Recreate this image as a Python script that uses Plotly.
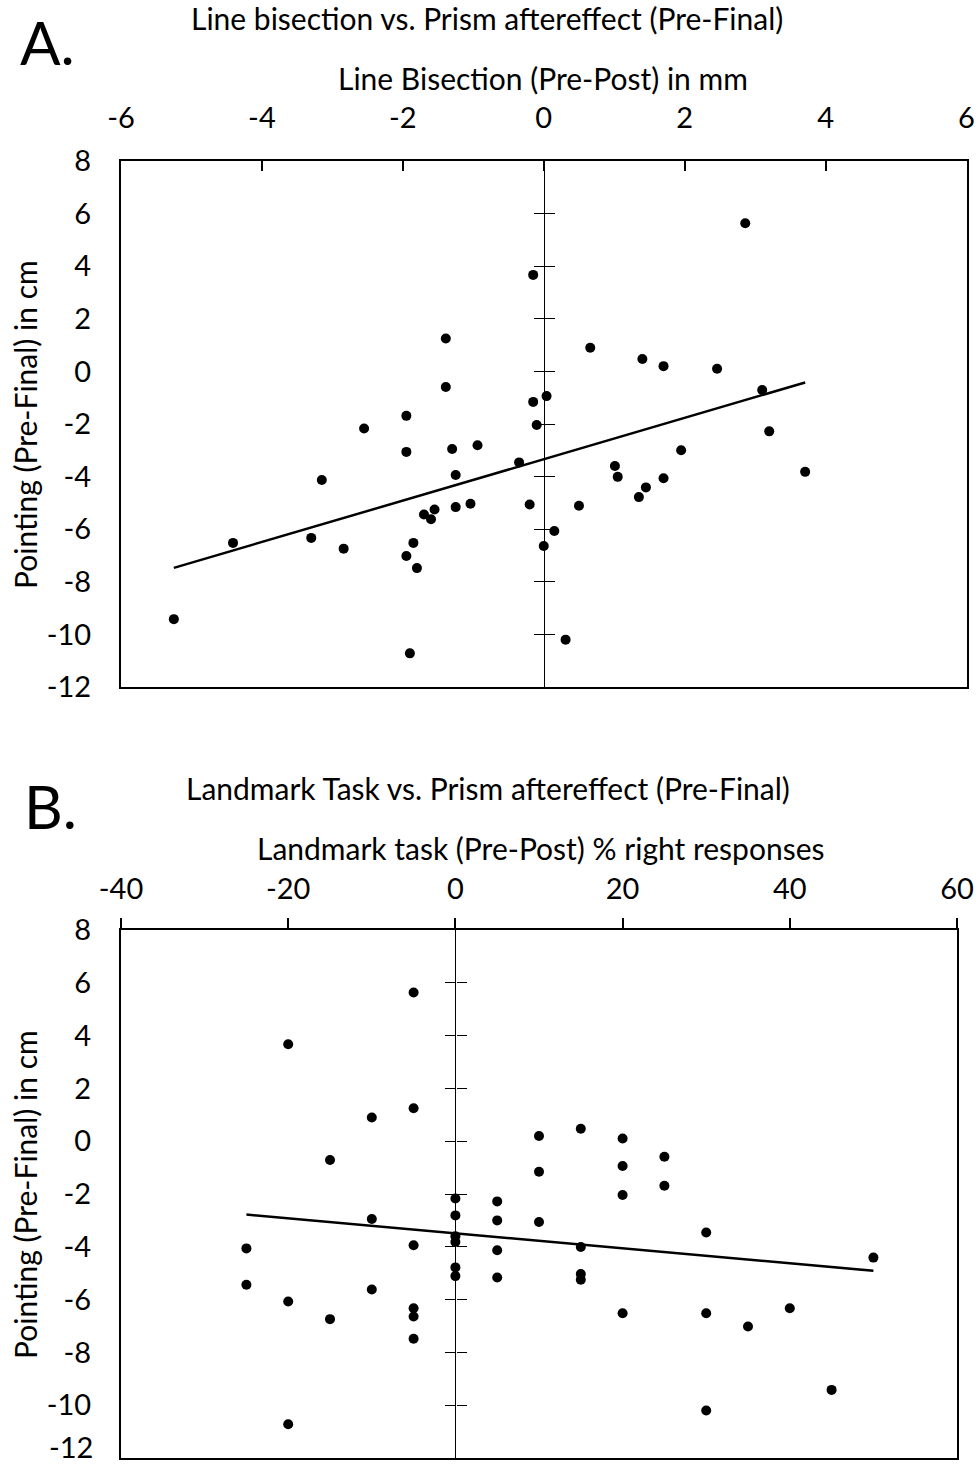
import plotly.graph_objects as go

# ---------------- data ----------------
# Panel A: Line bisection (Pre-Post, mm) vs pointing (Pre-Final, cm)
line_bisection_mm = [-0.15, -1.39, -1.39, -1.95, -0.15, 0.04, 2.86, 0.66, 1.40, 1.70,
                     2.46, 3.10, -0.10, -2.55, -1.95, -1.30, -0.94, -0.35, -3.15, -1.25,
                     -0.20, -1.04, -1.25, -1.55, -1.70, -1.60, -4.41, -3.30, -2.84, -1.85,
                     -1.95, -1.80, 0.00, -5.25, -1.90, 0.15, 0.50, 1.01, 1.05, 1.35,
                     1.45, 1.70, 1.95, 3.20, 3.71, 0.31]
pointing_A_cm = [3.67, 1.25, -0.59, -1.69, -1.16, -0.94, 5.63, 0.90, 0.47, 0.20,
                 0.10, -0.71, -2.04, -2.17, -3.06, -2.95, -2.81, -3.46, -4.13, -3.94,
                 -5.06, -5.03, -5.16, -5.25, -5.44, -5.62, -6.52, -6.33, -6.74, -6.52,
                 -7.02, -7.48, -6.64, -9.42, -10.72, -6.07, -5.11, -3.60, -4.01, -4.78,
                 -4.41, -4.06, -3.00, -2.28, -3.82, -10.20]
trend_A_x = [-5.25, 3.71]
trend_A_y = [-7.47, -0.42]

# Panel B: Landmark task (Pre-Post, % right responses) vs pointing (Pre-Final, cm)
landmark_pct = [-5, -20, -5, -10, -15, 10, 10, 15, 20, 25,
                20, 25, 0, 0, 0, 0, 0, 0, -10, -25,
                -25, -5, -20, -10, -15, -5, -5, -5, -20, 5,
                5, 10, 5, 5, 20, 30, 15, 15, 15, 50,
                20, 30, 35, 40, 45, 30]
pointing_B_cm = [5.63, 3.67, 1.25, 0.90, -0.71, 0.20, -1.16, 0.47, 0.10, -0.59,
                 -0.94, -1.69, -2.17, -2.81, -3.60, -3.82, -4.78, -5.11, -2.95, -4.06,
                 -5.44, -3.94, -6.07, -5.62, -6.74, -6.33, -6.64, -7.48, -10.72, -2.28,
                 -3.00, -3.06, -4.13, -5.16, -2.04, -3.46, -4.01, -5.03, -5.25, -4.41,
                 -6.52, -6.52, -7.02, -6.33, -9.42, -10.20]
trend_B_x = [-25, 50]
trend_B_y = [-2.78, -4.91]

x_ticks_A = [-6, -4, -2, 0, 2, 4, 6]
x_ticks_B = [-40, -20, 0, 20, 40, 60]
y_ticks = [8, 6, 4, 2, 0, -2, -4, -6, -8, -10, -12]
y_inner_ticks = [6, 4, 2, 0, -2, -4, -6, -8, -10]

# ---------------- layout geometry ----------------
W, H = 979, 1472
FONT = "Lato"
FS = 29      # tick labels
FT = 30      # titles

def px_x(p):
    return p / W

def px_y(p):
    return 1 - p / H

def labels(vals):
    return [str(v) for v in vals]  # plain hyphen-minus, as in the reference

domA_x = [px_x(121), px_x(966.5)]
domA_y = [px_y(687), px_y(161)]
domB_x = [px_x(121), px_x(957)]
domB_y = [px_y(1458), px_y(930)]
rngA_x = [-6, 6]
rngB_x = [-40, 60]
rng_y = [-12, 8]

def zero_pos(dom, rng):
    return dom[0] + (0 - rng[0]) / (rng[1] - rng[0]) * (dom[1] - dom[0])

fig = go.Figure()

# Panel A
fig.add_trace(go.Scatter(x=line_bisection_mm, y=pointing_A_cm, mode="markers",
                         marker=dict(size=10, color="black"), xaxis="x", yaxis="y",
                         showlegend=False))
fig.add_trace(go.Scatter(x=trend_A_x, y=trend_A_y, mode="lines",
                         line=dict(color="black", width=2.5), xaxis="x", yaxis="y",
                         showlegend=False))
# Panel B
fig.add_trace(go.Scatter(x=landmark_pct, y=pointing_B_cm, mode="markers",
                         marker=dict(size=10, color="black"), xaxis="x2", yaxis="y2",
                         showlegend=False))
fig.add_trace(go.Scatter(x=trend_B_x, y=trend_B_y, mode="lines",
                         line=dict(color="black", width=2.5), xaxis="x2", yaxis="y2",
                         showlegend=False))
# empty traces so that the crossing axes at x = 0 get drawn
for xa, ya in [("x", "y3"), ("x", "y4"), ("x2", "y5"), ("x2", "y6")]:
    fig.add_trace(go.Scatter(x=[None], y=[None], mode="markers", xaxis=xa, yaxis=ya,
                             showlegend=False, hoverinfo="skip"))

tickfont = dict(family=FONT, size=FS, color="black")
box = dict(showline=True, linecolor="black", linewidth=2, mirror=True,
           showgrid=False, zeroline=False, automargin=False, tickfont=tickfont)

inner = dict(showline=True, linecolor="black", linewidth=1.3, showgrid=False,
             zeroline=False, showticklabels=False, tickmode="array",
             tickvals=y_inner_ticks, ticklen=10, tickwidth=1.3, tickcolor="black",
             range=rng_y, anchor="free", automargin=False)

# panel B: the bottom "-12" label sits at the page edge, drawn separately so it stays visible
y_text_B = labels(y_ticks)[:-1] + [""]

fig.update_layout(
    width=W, height=H, margin=dict(l=0, r=0, t=0, b=0),
    template="none", paper_bgcolor="white", plot_bgcolor="rgba(0,0,0,0)",
    font=dict(family=FONT, size=FS, color="black"),
    xaxis=dict(domain=domA_x, range=rngA_x, side="top", anchor="y",
               tickmode="array", tickvals=x_ticks_A, ticktext=labels(x_ticks_A),
               ticks="inside", ticklen=10,
               tickwidth=1.5, tickcolor="black", ticklabelstandoff=19, **box),
    yaxis=dict(domain=domA_y, range=rng_y, anchor="x", tickmode="array",
               tickvals=y_ticks, ticktext=labels(y_ticks), ticks="",
               ticklabelstandoff=22, **box),
    yaxis3=dict(overlaying="y", position=zero_pos(domA_x, rngA_x), ticks="outside", **inner),
    yaxis4=dict(overlaying="y", position=zero_pos(domA_x, rngA_x), ticks="inside", **inner),
    xaxis2=dict(domain=domB_x, range=rngB_x, side="top", anchor="y2",
                tickmode="array", tickvals=x_ticks_B, ticktext=labels(x_ticks_B),
                ticks="outside", ticklen=10,
                tickwidth=1.5, tickcolor="black", ticklabelstandoff=7, **box),
    yaxis2=dict(domain=domB_y, range=rng_y, anchor="x2", tickmode="array",
                tickvals=y_ticks, ticktext=y_text_B, ticks="",
                ticklabelstandoff=22, **box),
    yaxis5=dict(overlaying="y2", position=zero_pos(domB_x, rngB_x), ticks="outside", **inner),
    yaxis6=dict(overlaying="y2", position=zero_pos(domB_x, rngB_x), ticks="inside", **inner),
)

def ann(text, x, y, size=FT, angle=0, xanchor="center"):
    fig.add_annotation(text=text, x=px_x(x), y=px_y(y), xref="paper", yref="paper",
                       showarrow=False, xanchor=xanchor, yanchor="middle",
                       textangle=angle, font=dict(family=FONT, size=size, color="black"))

ann("Line bisection vs. Prism aftereffect (Pre-Final)", 487, 18)
ann("A.", 47, 42, size=60)
ann("Line Bisection (Pre-Post) in mm", 543, 78)
ann("Pointing (Pre-Final) in cm", 25, 425, angle=-90)

ann("Landmark Task vs. Prism aftereffect (Pre-Final)", 488, 788)
ann("B.", 50, 806, size=60)
ann("Landmark task (Pre-Post) % right responses", 540, 848)
ann("Pointing (Pre-Final) in cm", 25, 1195, angle=-90)
ann(str(y_ticks[-1]), 95, 1446, size=FS, xanchor="right")

fig.write_html("out.html")
